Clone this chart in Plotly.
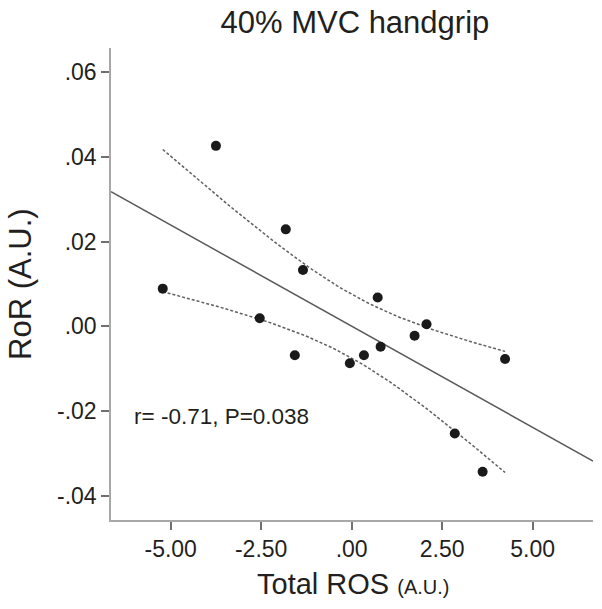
import numpy as np
import plotly.graph_objects as go

# Data
ros = [-3.75, -1.82, -1.345, -5.22, -2.54, 0.72, 2.07, 1.74, -1.57, -0.05, 0.34, 0.80, 4.24, 2.85, 3.62]
ror = [0.0426, 0.0229, 0.0133, 0.0089, 0.0019, 0.0068, 0.0005, -0.0022, -0.0068, -0.0087, -0.0068, -0.0048, -0.0077, -0.0253, -0.0343]

x_tickvals = [-5, -2.5, 0, 2.5, 5]
x_ticktext = ["-5.00", "-2.50", ".00", "2.50", "5.00"]
y_tickvals = [-0.04, -0.02, 0.0, 0.02, 0.04, 0.06]
y_ticktext = ["-.04", "-.02", ".00", ".02", ".04", ".06"]

title_text = "40% MVC handgrip"
x_title = "Total ROS"
x_unit = "(A.U.)"
y_title = "RoR (A.U.)"
stat_text = "r= -0.71, P=0.038"

x_range = [-6.65, 6.67]
y_range = [-0.0457, 0.0657]
T_95_DF13 = 2.1604  # Student t, two-sided 95%, df = n-2 = 13

# Linear fit and 95% CI of mean
x = np.array(ros)
y = np.array(ror)
n = len(x)
slope, intercept = np.polyfit(x, y, 1)
resid = y - (slope * x + intercept)
s = np.sqrt(np.sum(resid ** 2) / (n - 2))
sxx = np.sum((x - x.mean()) ** 2)

xl = np.array(x_range)
yl = slope * xl + intercept

xc = np.linspace(x.min(), x.max(), 60)
yc = slope * xc + intercept
hw = T_95_DF13 * s * np.sqrt(1.0 / n + (xc - x.mean()) ** 2 / sxx)

TEXT = "#231f20"
FONT = "Liberation Sans, Arial, sans-serif"

fig = go.Figure()
fig.add_trace(go.Scatter(x=xl, y=yl, mode="lines",
                         line=dict(color="#5a5a5a", width=1.5), hoverinfo="skip"))
fig.add_trace(go.Scatter(x=xc, y=yc + hw, mode="lines",
                         line=dict(color="#606060", width=1.5, dash="3px,2px"), hoverinfo="skip"))
fig.add_trace(go.Scatter(x=xc, y=yc - hw, mode="lines",
                         line=dict(color="#606060", width=1.5, dash="3px,2px"), hoverinfo="skip"))
fig.add_trace(go.Scatter(x=ros, y=ror, mode="markers",
                         marker=dict(color="#1a1a1a", size=10, line=dict(width=0))))

fig.update_layout(
    width=602, height=609,
    margin=dict(l=111, r=9, t=48, b=89),
    paper_bgcolor="white", plot_bgcolor="white",
    showlegend=False,
    font=dict(family=FONT, color=TEXT),
    title=dict(text=title_text, x=0.506, xref="paper", xanchor="center",
               y=1 - 22 / 609, yref="container", yanchor="middle",
               font=dict(size=31, color=TEXT, family=FONT)),
    xaxis=dict(range=x_range, showgrid=False, zeroline=False,
               showline=True, linecolor="#a8a8a8", linewidth=1.5,
               ticks="outside", ticklen=8, tickwidth=1.5, tickcolor="#707070",
               tickvals=x_tickvals, ticktext=x_ticktext,
               tickfont=dict(size=23, color=TEXT), fixedrange=True),
    yaxis=dict(range=y_range, showgrid=False, zeroline=False,
               showline=True, linecolor="#a8a8a8", linewidth=1.5,
               ticks="outside", ticklen=8, tickwidth=1.5, tickcolor="#707070",
               tickvals=y_tickvals, ticktext=y_ticktext,
               tickfont=dict(size=23, color=TEXT), fixedrange=True),
    annotations=[
        dict(text=stat_text, x=-6.08, y=-0.0213, xref="x", yref="y",
             xanchor="left", yanchor="middle", showarrow=False,
             font=dict(size=22.5, color=TEXT)),
        dict(text=y_title, x=(20 - 111) / 482, y=0.5, xref="paper", yref="paper",
             xanchor="center", yanchor="middle", textangle=-90, showarrow=False,
             font=dict(size=31, color=TEXT)),
        dict(text=x_title + " <span style='font-size:20px'>" + x_unit + "</span>",
             x=0.503, y=(520 - 584) / 472, xref="paper", yref="paper",
             xanchor="center", yanchor="middle", showarrow=False,
             font=dict(size=29, color=TEXT)),
    ],
)

fig.write_html("out.html", config={"displayModeBar": False},
               post_script="document.body.style.margin='0';document.body.style.overflow='hidden';")
